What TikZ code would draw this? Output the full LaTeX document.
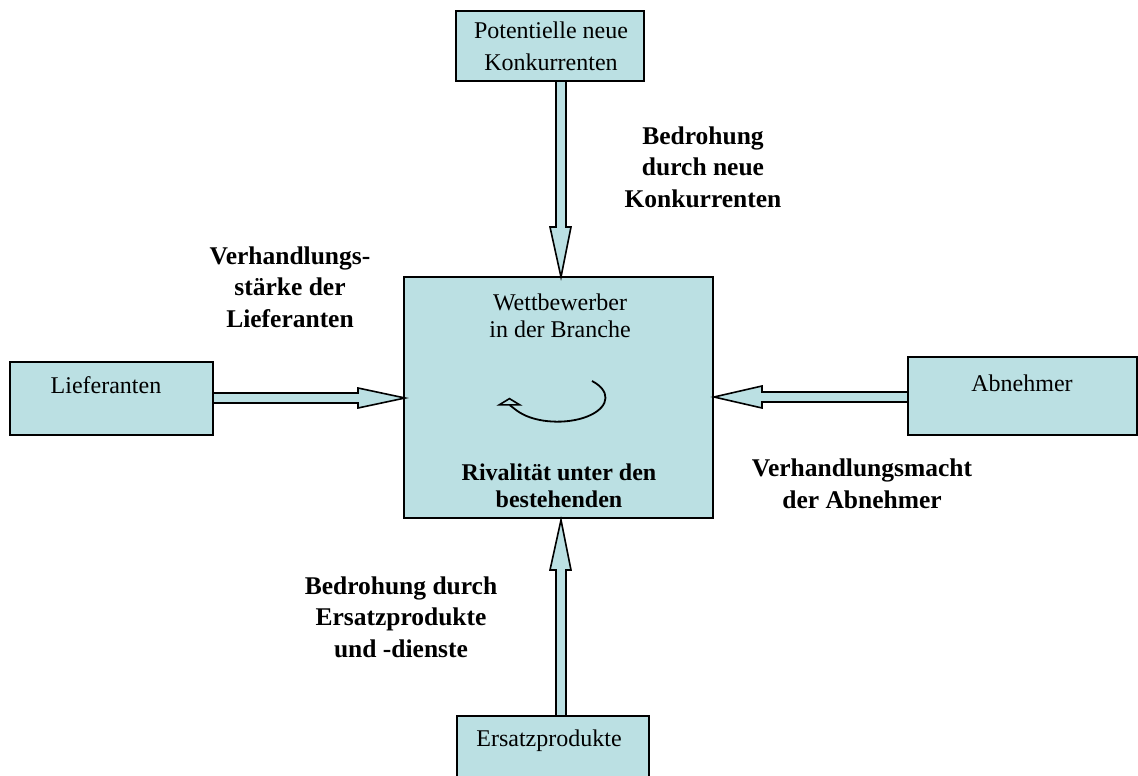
\documentclass[tikz,border=0pt]{standalone}
\usepackage{fontspec}
\setmainfont{Liberation Serif}
\usetikzlibrary{arrows.meta}
\definecolor{boxfill}{RGB}{187,224,227}
\tikzset{
  box/.style={draw=black, line width=1.8pt, fill=boxfill, rectangle, inner sep=0pt},
  blockarrow/.style={draw=black, line width=1.6pt, fill=boxfill, line join=miter},
  txt/.style={font=\fontsize{24}{32}\selectfont, align=center, inner sep=0pt},
  btxt/.style={font=\fontsize{25.5}{31.5}\selectfont\bfseries, align=center, inner sep=0pt},
  ctxt/.style={font=\fontsize{24}{27.5}\selectfont, align=center, inner sep=0pt},
  cbtxt/.style={font=\fontsize{24}{27.5}\selectfont\bfseries, align=center, inner sep=0pt},
}
\begin{document}
\begin{tikzpicture}[x=1pt, y=-1pt]
\clip (0,0) rectangle (1138,776);
\useasboundingbox (0,0) rectangle (1138,776);
% boxes
\node[box, minimum width=188pt, minimum height=70pt] (top) at (550,46) {};
\node[box, minimum width=309pt, minimum height=241pt] (center) at (558.5,397.5) {};
\node[box, minimum width=203pt, minimum height=73pt] (left) at (111.5,398.5) {};
\node[box, minimum width=229pt, minimum height=78pt] (right) at (1022.5,396) {};
\node[box, minimum width=192pt, minimum height=80pt] (bottom) at (553,756) {};
% box texts
\node[txt] (toptext) at (551,46) {Potentielle neue\\Konkurrenten};
\node[txt] (lefttext) at (106,385) {Lieferanten};
\node[txt] (righttext) at (1022,383) {Abnehmer};
\node[txt] (bottomtext) at (549,741) {Ersatzprodukte};
\node[ctxt] (ctop) at (560,316) {Wettbewerber\\in der Branche};
\node[cbtxt] (cbot) at (559,486) {Rivalität unter den\\bestehenden};
% labels
\node[btxt] (l1) at (703,167) {Bedrohung\\durch neue\\Konkurrenten};
\node[btxt] (l2) at (290,287) {Verhandlungs-\\stärke der\\Lieferanten};
\node[btxt] (l3) at (862,484) {Verhandlungsmacht\\der Abnehmer};
\node[btxt] (l4) at (401,617) {Bedrohung durch\\Ersatzprodukte\\und -dienste};
% block arrows (top -> center)
\draw[blockarrow] (556,81) -- (566,81) -- (566,227) -- (571,227) -- (561,277) -- (550,227) -- (556,227) -- cycle;
% left -> center
\draw[blockarrow] (213,393) -- (358,393) -- (358,388) -- (405,398) -- (358,408) -- (358,403) -- (213,403) -- cycle;
% right -> center
\draw[blockarrow] (908,392) -- (762,392) -- (762,386) -- (714,397) -- (762,408) -- (762,402) -- (908,402) -- cycle;
% bottom -> center
\draw[blockarrow] (556,716) -- (566,716) -- (566,570) -- (571,570) -- (561,520) -- (550,570) -- (556,570) -- cycle;
% rivalry circular arrow
\draw[line width=1.8pt, -{Triangle[open, width=26pt, length=8pt, line width=1.6pt]}]
  (592,381) arc[x radius=48, y radius=24, start angle=-44, end angle=180];
\end{tikzpicture}
\end{document}
